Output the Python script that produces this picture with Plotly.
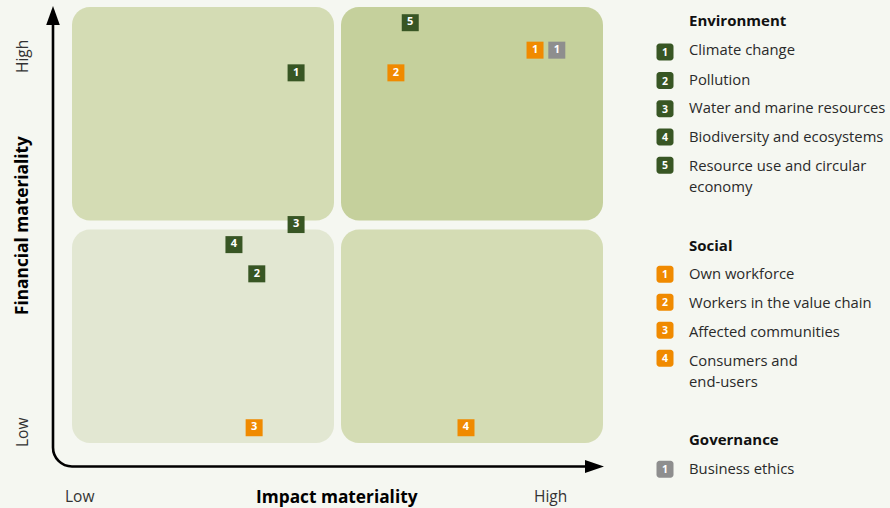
import plotly.graph_objects as go

# ---- data: impact score (x) and financial score (y), 0-10 scale ----
env_labels = ["Climate change", "Pollution", "Water and marine resources",
              "Biodiversity and ecosystems", "Resource use and circular<br>economy"]
env_ids = ["1", "2", "3", "4", "5"]
env_impact = [4.22, 3.48, 4.22, 3.05, 6.37]
env_financial = [8.49, 3.88, 5.01, 4.55, 9.64]

soc_labels = ["Own workforce", "Workers in the value chain",
              "Affected communities", "Consumers and<br>end-users"]
soc_ids = ["1", "2", "3", "4"]
soc_impact = [8.72, 6.10, 3.43, 7.42]
soc_financial = [9.01, 8.49, 0.35, 0.35]

gov_labels = ["Business ethics"]
gov_ids = ["1"]
gov_impact = [9.13]
gov_financial = [9.01]

axis_ticks = ["Low", "High"]

# ---- styling ----
W, H = 890, 508
ML, MR, MT, MB = 72, 287, 7, 65
PW, PH = W - ML - MR, H - MT - MB
BG = "#f5f7f1"
GREEN = "#385624"
ORANGE = "#f08a00"
GREY = "#8e8e8e"
TXT = "#1e1e1e"
FONT = "Open Sans"
Q_COLORS = {"ll": "#e2e7d2", "lr": "#d4dcb4", "ul": "#d4dcb4", "ur": "#c5d09c"}


def px_x(p):
    return (p - ML) / PW


def px_y(p):
    return (H - MB - p) / PH


def rounded_path(x0, y0, x1, y1, rx, ry):
    k = 0.5523
    return (f"M{x0+rx},{y0} L{x1-rx},{y0} "
            f"C{x1-rx+rx*k},{y0} {x1},{y0+ry-ry*k} {x1},{y0+ry} "
            f"L{x1},{y1-ry} "
            f"C{x1},{y1-ry+ry*k} {x1-rx+rx*k},{y1} {x1-rx},{y1} "
            f"L{x0+rx},{y1} "
            f"C{x0+rx-rx*k},{y1} {x0},{y1-ry+ry*k} {x0},{y1-ry} "
            f"L{x0},{y0+ry} "
            f"C{x0},{y0+ry-ry*k} {x0+rx-rx*k},{y0} {x0+rx},{y0} Z")


fig = go.Figure()
shapes = []
annotations = []

# quadrant backgrounds (data space, 0-10 each way, split at 5)
ux = PW / 10.0
uy = PH / 10.0
gx = 3.5 / ux
gy = 4.5 / uy
rx = 18 / ux
ry = 18 / uy
quads = [
    ("ll", 0, 0, 5 - gx, 5 - gy),
    ("lr", 5 + gx, 0, 10, 5 - gy),
    ("ul", 0, 5 + gy, 5 - gx, 10),
    ("ur", 5 + gx, 5 + gy, 10, 10),
]
for key, x0, y0, x1, y1 in quads:
    shapes.append(dict(type="path", xref="x", yref="y", layer="below",
                       path=rounded_path(x0, y0, x1, y1, rx, ry),
                       fillcolor=Q_COLORS[key], line=dict(width=0)))

# axis arrows (pixel positions converted to paper space)
ax_x, ax_y, cr = 53, 466.5, 19
k = 0.5523
axis_path = (f"M{px_x(ax_x)},{px_y(22)} L{px_x(ax_x)},{px_y(ax_y-cr)} "
             f"C{px_x(ax_x)},{px_y(ax_y-cr+cr*k)} {px_x(ax_x+cr-cr*k)},{px_y(ax_y)} "
             f"{px_x(ax_x+cr)},{px_y(ax_y)} L{px_x(588)},{px_y(ax_y)}")
shapes.append(dict(type="path", xref="paper", yref="paper", path=axis_path,
                   line=dict(color="#000000", width=2.6)))
shapes.append(dict(type="path", xref="paper", yref="paper",
                   path=(f"M{px_x(ax_x)},{px_y(6)} L{px_x(ax_x+6.8)},{px_y(25)} "
                         f"L{px_x(ax_x-6.8)},{px_y(25)} Z"),
                   fillcolor="#000000", line=dict(width=0)))
shapes.append(dict(type="path", xref="paper", yref="paper",
                   path=(f"M{px_x(604)},{px_y(ax_y)} L{px_x(585)},{px_y(ax_y-6.5)} "
                         f"L{px_x(585)},{px_y(ax_y+6.5)} Z"),
                   fillcolor="#000000", line=dict(width=0)))

# matrix marks
groups = [
    ("Environment", env_ids, env_impact, env_financial, GREEN),
    ("Social", soc_ids, soc_impact, soc_financial, ORANGE),
    ("Governance", gov_ids, gov_impact, gov_financial, GREY),
]
for name, ids, xs, ys, col in groups:
    fig.add_trace(go.Scatter(
        x=xs, y=ys, mode="markers+text", name=name, text=ids,
        textposition="middle center",
        textfont=dict(family=FONT, size=11, color="white", weight="bold"),
        marker=dict(symbol="square", size=17, color=col,
                    line=dict(width=0)),
        cliponaxis=False, hoverinfo="skip", showlegend=False))


def ann(text, x, y, size=15, bold=False, angle=0, xanchor="center", color=TXT):
    annotations.append(dict(
        text=f"<b>{text}</b>" if bold else text, x=px_x(x), y=px_y(y),
        xref="paper", yref="paper", showarrow=False, textangle=angle,
        xanchor=xanchor, yanchor="middle",
        font=dict(family=FONT, size=size, color=color)))


# axis labels
ann(axis_ticks[1], 22, 57, size=15.5, angle=-90, color="#333333")
ann(axis_ticks[0], 22, 433, size=15.5, angle=-90, color="#333333")
ann("Financial materiality", 22, 226, size=17.3, bold=True, angle=-90, color="#000000")
ann(axis_ticks[0], 79.5, 496, size=15.5, color="#333333")
ann("Impact materiality", 336.5, 496, size=17.3, bold=True, color="#000000")
ann(axis_ticks[1], 550, 496, size=15.5, color="#333333")

# side legend
ICON_X, TEXT_X = 665, 686.5
legend_blocks = [
    ("Environment", 20.5, env_labels, env_ids,
     [52, 80.5, 108.7, 137, 165.3], [49, 78.5, 107.3, 136.3, 165.3], GREEN),
    ("Social", 245, soc_labels, soc_ids,
     [274.2, 302.3, 330.3, 358.3], [273, 302, 330.8, 360], ORANGE),
    ("Governance", 439, gov_labels, gov_ids, [469.3], [467.6], GREY),
]
for title, ty, labels, ids, ys, tys, col in legend_blocks:
    ann(title, TEXT_X, ty, size=15, bold=True, xanchor="left", color="#111111")
    for lab, i, yy, ty2 in zip(labels, ids, ys, tys):
        shapes.append(dict(type="path", xref="paper", yref="paper",
                           path=rounded_path(px_x(ICON_X - 8.5), px_y(yy + 8.5),
                                             px_x(ICON_X + 8.5), px_y(yy - 8.5),
                                             3 / PW, 3 / PH),
                           fillcolor=col, line=dict(width=0)))
        ann(f"<b>{i}</b>", ICON_X, yy, size=10.5, color="white")
        if "<br>" in lab:
            first, second = lab.split("<br>")
            ann(first, TEXT_X, ty2, size=14.8, xanchor="left", color="#2a2a2a")
            ann(second, TEXT_X, ty2 + 20.5, size=14.8, xanchor="left", color="#2a2a2a")
        else:
            ann(lab, TEXT_X, ty2, size=14.8, xanchor="left", color="#2a2a2a")

fig.update_layout(
    width=W, height=H,
    margin=dict(l=ML, r=MR, t=MT, b=MB),
    paper_bgcolor=BG, plot_bgcolor=BG,
    xaxis=dict(range=[0, 10], visible=False, fixedrange=True),
    yaxis=dict(range=[0, 10], visible=False, fixedrange=True),
    shapes=shapes, annotations=annotations,
    showlegend=False,
)

fig.write_html("out.html")
